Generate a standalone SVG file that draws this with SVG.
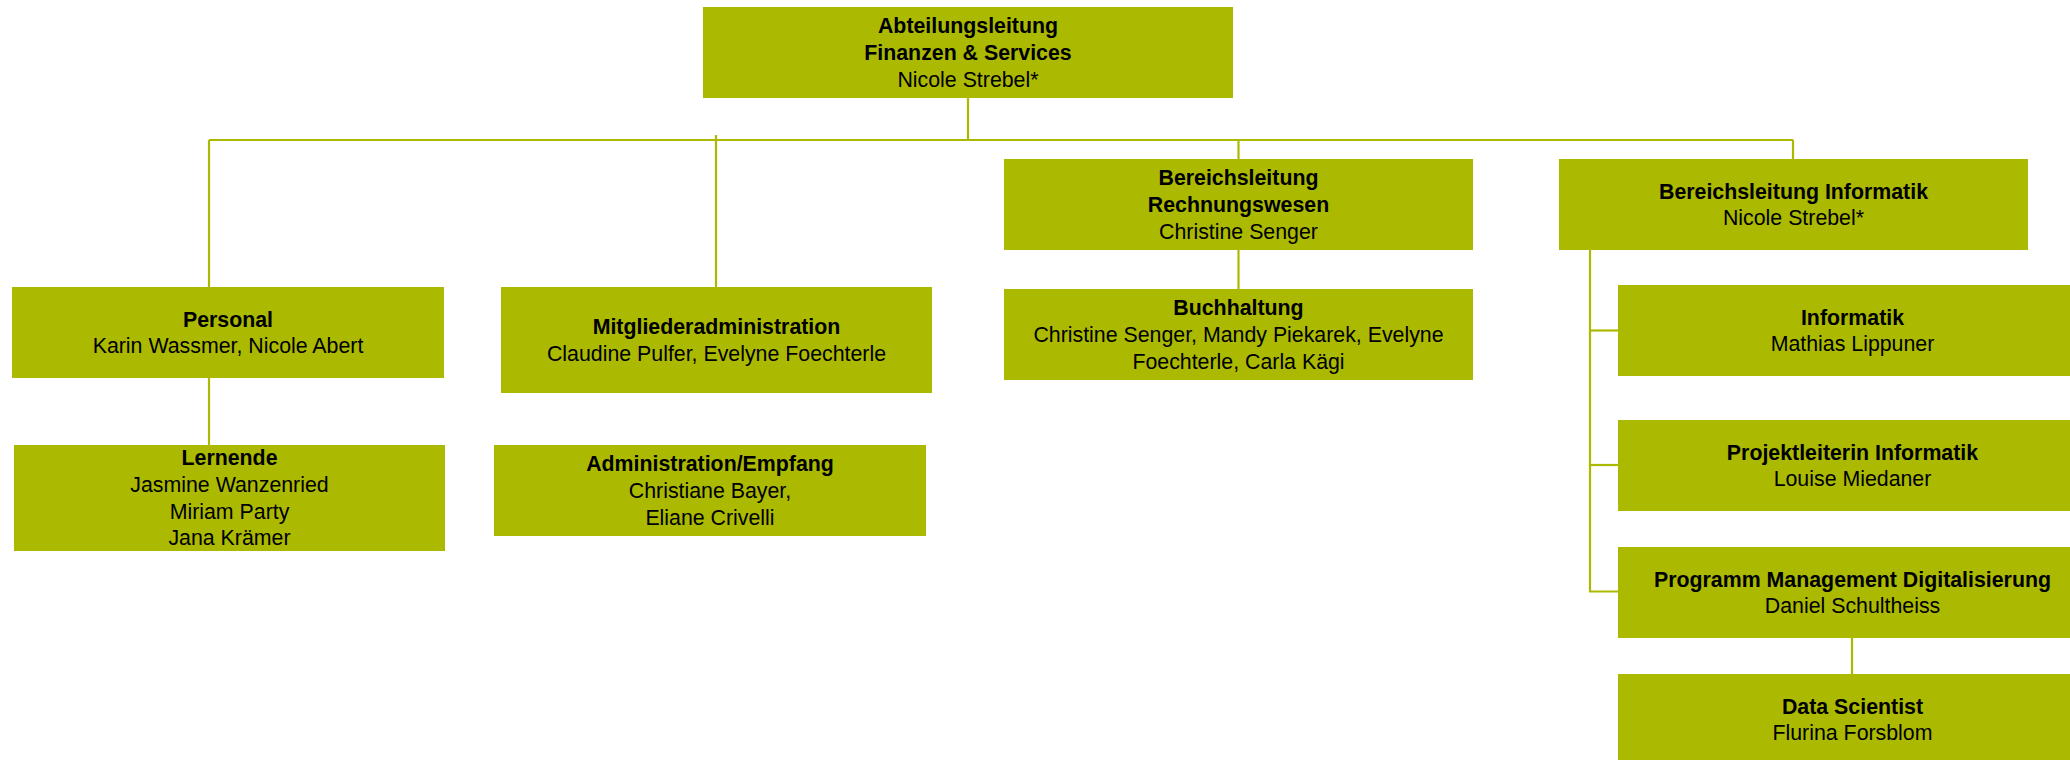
<svg xmlns="http://www.w3.org/2000/svg" width="2070" height="760" viewBox="0 0 2070 760">
<style>
.box{fill:#abba00;}
.t{font-family:"Liberation Sans",Arial,sans-serif;font-size:21.33px;fill:#000;text-anchor:middle;}
.b{font-weight:bold;}
.c{stroke:#abba00;stroke-width:2.2;fill:none;}
</style>
<rect width="2070" height="760" fill="#fff"/>
<g id="connectors">
<path class="c" d="M968,98 V140"/>
<path class="c" d="M209,140 H1793"/>
<path class="c" d="M209,140 V287"/>
<path class="c" d="M716,135 V287"/>
<path class="c" d="M1238.5,140 V159"/>
<path class="c" d="M1793,140 V159"/>
<path class="c" d="M209,378 V445"/>
<path class="c" d="M1238.5,250 V289"/>
<path class="c" d="M1590,250 V591.5 H1618"/>
<path class="c" d="M1590,330.5 H1618"/>
<path class="c" d="M1590,465 H1618"/>
<path class="c" d="M1852,638 V674"/>
</g>
<g id="n-abteilung">
<rect class="box" x="703" y="7" width="530" height="91"/>
<text class="t"><tspan class="b" x="968" y="33.2">Abteilungsleitung</tspan><tspan class="b" x="968" y="59.9">Finanzen &amp; Services</tspan><tspan x="968" y="86.6">Nicole Strebel*</tspan></text>
</g>
<g id="n-personal">
<rect class="box" x="12" y="287" width="432" height="91"/>
<text class="t"><tspan class="b" x="228" y="326.6">Personal</tspan><tspan x="228" y="353.2">Karin Wassmer, Nicole Abert</tspan></text>
</g>
<g id="n-lernende">
<rect class="box" x="14" y="445" width="431" height="106"/>
<text class="t"><tspan class="b" x="229.5" y="465.4">Lernende</tspan><tspan x="229.5" y="492">Jasmine Wanzenried</tspan><tspan x="229.5" y="518.7">Miriam Party</tspan><tspan x="229.5" y="545.4">Jana Krämer</tspan></text>
</g>
<g id="n-mitglieder">
<rect class="box" x="501" y="287" width="431" height="106"/>
<text class="t"><tspan class="b" x="716.5" y="334.1">Mitgliederadministration</tspan><tspan x="716.5" y="360.7">Claudine Pulfer, Evelyne Foechterle</tspan></text>
</g>
<g id="n-empfang">
<rect class="box" x="494" y="445" width="432" height="91"/>
<text class="t"><tspan class="b" x="710" y="471.2">Administration/Empfang</tspan><tspan x="710" y="497.9">Christiane Bayer,</tspan><tspan x="710" y="524.6">Eliane Crivelli</tspan></text>
</g>
<g id="n-rechnungswesen">
<rect class="box" x="1004" y="159" width="469" height="91"/>
<text class="t"><tspan class="b" x="1238.5" y="185.2">Bereichsleitung</tspan><tspan class="b" x="1238.5" y="211.9">Rechnungswesen</tspan><tspan x="1238.5" y="238.6">Christine Senger</tspan></text>
</g>
<g id="n-buchhaltung">
<rect class="box" x="1004" y="289" width="469" height="91"/>
<text class="t"><tspan class="b" x="1238.5" y="315.2">Buchhaltung</tspan><tspan x="1238.5" y="341.9">Christine Senger, Mandy Piekarek, Evelyne</tspan><tspan x="1238.5" y="368.6">Foechterle, Carla Kägi</tspan></text>
</g>
<g id="n-bl-informatik">
<rect class="box" x="1559" y="159" width="469" height="91"/>
<text class="t"><tspan class="b" x="1793.5" y="198.6">Bereichsleitung Informatik</tspan><tspan x="1793.5" y="225.2">Nicole Strebel*</tspan></text>
</g>
<g id="n-informatik">
<rect class="box" x="1618" y="285" width="469" height="91"/>
<text class="t"><tspan class="b" x="1852.5" y="324.6">Informatik</tspan><tspan x="1852.5" y="351.2">Mathias Lippuner</tspan></text>
</g>
<g id="n-projektleiterin">
<rect class="box" x="1618" y="420" width="469" height="91"/>
<text class="t"><tspan class="b" x="1852.5" y="459.6">Projektleiterin Informatik</tspan><tspan x="1852.5" y="486.2">Louise Miedaner</tspan></text>
</g>
<g id="n-programm">
<rect class="box" x="1618" y="547" width="469" height="91"/>
<text class="t"><tspan class="b" x="1852.5" y="586.6">Programm Management Digitalisierung</tspan><tspan x="1852.5" y="613.2">Daniel Schultheiss</tspan></text>
</g>
<g id="n-datascientist">
<rect class="box" x="1618" y="674" width="469" height="91"/>
<text class="t"><tspan class="b" x="1852.5" y="713.6">Data Scientist</tspan><tspan x="1852.5" y="740.2">Flurina Forsblom</tspan></text>
</g>
</svg>
